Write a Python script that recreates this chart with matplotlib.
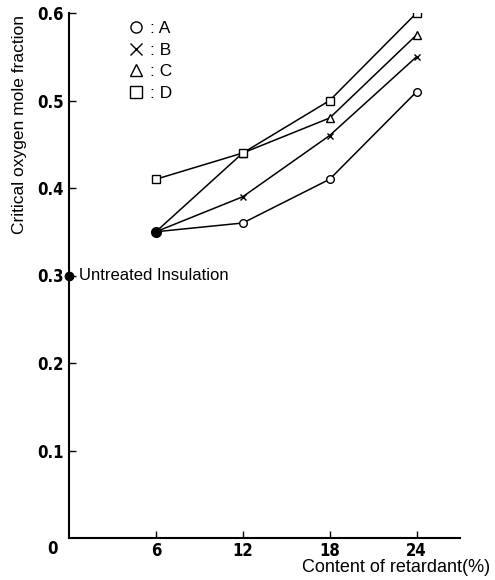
import matplotlib
matplotlib.use("Agg")
import matplotlib.pyplot as plt
from matplotlib.lines import Line2D

# Data
content = [6, 12, 18, 24]
series_names = ["A", "B", "C", "D"]
A = [0.35, 0.36, 0.41, 0.51]
B = [0.35, 0.39, 0.46, 0.55]
C = [0.35, 0.44, 0.48, 0.575]
D = [0.41, 0.44, 0.50, 0.60]
untreated_x = 0
untreated_y = 0.30
untreated_label = "Untreated Insulation"
xticks = [6, 12, 18, 24]
yticks = [0.1, 0.2, 0.3, 0.4, 0.5, 0.6]
ytick_labels = ["0.1", "0.2", "0.3", "0.4", "0.5", "0.6"]

TICKFONT = dict(family=["Liberation Sans Narrow", "DejaVu Sans"],
                fontweight="bold", fontstretch="condensed", fontsize=12)

fig = plt.figure(figsize=(4.95, 5.8), dpi=100)
ax = fig.add_axes([69/495, 1-538/580, (460-69)/495, (538-13)/580])

markers = {"A": "o", "B": "x", "C": "^", "D": "s"}
data = {"A": A, "B": B, "C": C, "D": D}
for name in series_names:
    ys = data[name]
    ax.plot(content, ys, color="black", lw=1.1, zorder=2)
    mk = markers[name]
    if mk == "x":
        ax.plot(content[1:], ys[1:], ls="none", marker=mk, ms=5, mew=1.0,
                color="black", zorder=3)
    else:
        ax.plot(content[1:], ys[1:], ls="none", marker=mk, ms=5.5, mew=1.0,
                mfc="white", mec="black", zorder=3)
# D starts with its own square
ax.plot([content[0]], [D[0]], ls="none", marker="s", ms=5.5, mew=1.0,
        mfc="white", mec="black", zorder=3)
# common starting point of A, B, C
ax.plot([content[0]], [A[0]], ls="none", marker="o", ms=7, color="black", zorder=4)

# untreated insulation point
ax.plot([untreated_x], [untreated_y], ls="none", marker="o", ms=6, color="black",
        clip_on=False, zorder=5)
ax.text(untreated_x + 0.7, untreated_y, untreated_label, fontsize=12,
        family="Liberation Sans", va="center", ha="left")

ax.set_xlim(0, 27)
ax.set_ylim(0, 0.6)
ax.spines["top"].set_visible(False)
ax.spines["right"].set_visible(False)
for s in ("left", "bottom"):
    ax.spines[s].set_linewidth(1.5)

ax.set_xticks(xticks)
ax.set_xticklabels([str(t) for t in xticks], **TICKFONT)
ax.set_yticks(yticks)
ax.set_yticklabels(ytick_labels, **TICKFONT)
ax.tick_params(axis="y", direction="in", length=5, width=1.0, pad=4)
ax.tick_params(axis="x", direction="in", length=5, width=1.0, pad=3)
ax.text(-0.8, -0.012, "0", ha="right", va="center", **TICKFONT)

ax.set_ylabel("Critical oxygen mole fraction", fontsize=12.5,
              family="Liberation Sans", va="center", ha="center")
ax.yaxis.set_label_coords((20 - 69) / 391, (538 - 124) / 525)
fig.text(490/495, 1-567/580, "Content of retardant(%)", fontsize=13,
         family="Liberation Sans", ha="right", va="center")

handles = [Line2D([], [], ls="none", marker=markers[n], ms=8, mew=1.0,
                  mfc="white" if markers[n] != "x" else "black", mec="black")
           for n in series_names]
leg = ax.legend(handles, [": " + n for n in series_names],
                loc="upper left", bbox_to_anchor=(120/495, 1-12/580),
                bbox_transform=fig.transFigure, frameon=False,
                prop={"family": "Liberation Sans", "size": 12.5},
                handlelength=0.8, handletextpad=0.4, labelspacing=0.38,
                borderpad=0)

fig.savefig("out.png", dpi=100)
